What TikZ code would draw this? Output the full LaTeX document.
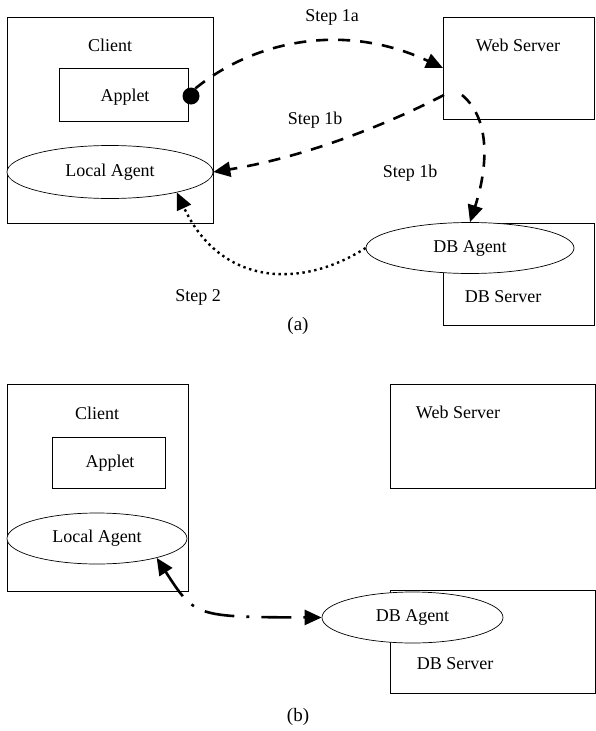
\documentclass[tikz,border=0pt]{standalone}
\usepackage{fontspec}
\setmainfont{Liberation Serif}
\usetikzlibrary{arrows.meta,shapes.geometric}

\begin{document}
\begin{tikzpicture}[x=1pt,y=-1pt,
  box/.style={draw, line width=1pt, inner sep=0pt},
  agent/.style={ellipse, draw, fill=white, line width=0.7pt, inner sep=0pt,
    font=\fontsize{18}{20}\selectfont},
  lbl/.style={font=\fontsize{18}{20}\selectfont, inner sep=0pt},
  sublabel/.style={font=\fontsize{19}{21}\selectfont, inner sep=0pt},
  bighead/.style={-{Triangle[length=17pt,width=15pt]}},
  dashline/.style={line width=2.6pt, dash pattern=on 12pt off 10pt},
  dotline/.style={line width=2.4pt, dash pattern=on 2.4pt off 3.6pt},
  dashdotline/.style={line width=2.6pt, dash pattern=on 30pt off 12pt on 3pt off 12pt}]
 \useasboundingbox (0,0) rectangle (596,731);

 % ---- (a) ----
 \node[box, minimum width=206pt, minimum height=206pt] (clientA) at (110,120) {};
 \node[lbl] (clientAt) at (110,45) {Client};
 \node[box, minimum width=129pt, minimum height=53pt] (appletA) at (123.5,94.5) {};
 \node[lbl] (appletAt) at (125,97) {Applet};
 \node[agent, minimum width=206pt, minimum height=53pt] (localA) at (110,172) {Local Agent};
 \node[circle, fill, inner sep=0pt, minimum size=17pt] (dotA) at (191,96) {};

 \node[box, minimum width=151pt, minimum height=102pt] (webA) at (519,68) {};
 \node[lbl] (webAt) at (518,45) {Web Server};
 \node[box, minimum width=151pt, minimum height=102pt] (dbsA) at (519,274) {};
 \node[lbl] (dbsAt) at (503,297) {DB Server};
 \node[agent, minimum width=208pt, minimum height=51pt] (dbA) at (470,248) {DB Agent};

 \coordinate (w1) at (444,95); % left side of web server
 \coordinate (w2) at (462,95); % inside web server

 \draw[dashline, bighead] (dotA.60) .. controls (255,40) and (345,22) .. (webA.west);
 \draw[dashline, bighead] (w1) .. controls (380,128) and (300,158) .. (localA.east);
 \draw[dashline, bighead] (w2) .. controls (492,120) and (487,170) .. (dbA.north);
 \draw[dotline, bighead] (dbA.west) .. controls (300,290) and (220,285) .. (localA.-17);

 \node[lbl] (s1a) at (332,17) {Step 1a};
 \node[lbl] (s1b) at (315,120) {Step 1b};
 \node[lbl] (s1c) at (410,173) {Step 1b};
 \node[lbl] (s2) at (198,297) {Step 2};
 \node[sublabel] (capA) at (298,326) {(a)};

 % ---- (b) ----
 \node[box, minimum width=181pt, minimum height=207pt] (clientB) at (97.5,487.5) {};
 \node[lbl] (clientBt) at (97,413) {Client};
 \node[box, minimum width=113pt, minimum height=51pt] (appletB) at (108.5,462.5) {};
 \node[lbl] (appletBt) at (110,463) {Applet};
 \node[agent, minimum width=180pt, minimum height=51pt] (localB) at (97,538.5) {Local Agent};

 \node[box, minimum width=205pt, minimum height=104pt] (webB) at (492.5,436) {};
 \node[lbl] (webBt) at (458,412) {Web Server};
 \node[box, minimum width=205pt, minimum height=103pt] (dbsB) at (492.5,641.5) {};
 \node[lbl] (dbsBt) at (455,664) {DB Server};
 \node[agent, minimum width=181pt, minimum height=51pt] (dbB) at (412.5,617.5) {DB Agent};

 \draw[dashdotline, {Triangle[length=17pt,width=15pt]}-{Triangle[length=17pt,width=15pt]}]
   (localB.-18) .. controls (195,617) .. (dbB.west);

 \node[sublabel] (capB) at (298,717) {(b)};
\end{tikzpicture}
\end{document}
